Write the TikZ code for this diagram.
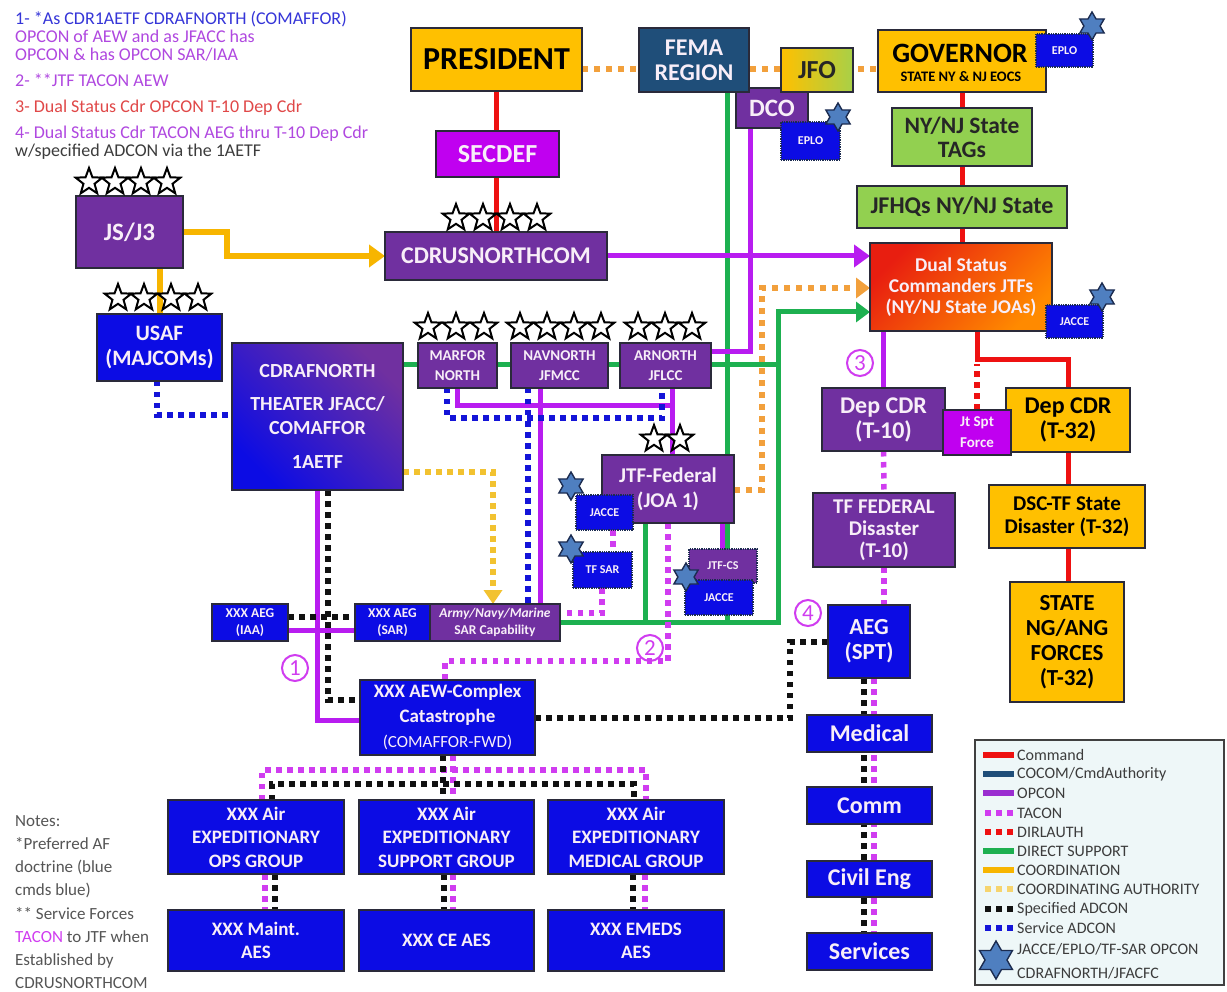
\documentclass[tikz,border=0pt]{standalone}
\usepackage{fontspec}
\setmainfont{Carlito}
\usetikzlibrary{shapes.geometric,arrows.meta}
\pgfdeclarelayer{bottomfill}
\pgfdeclarelayer{background}
\pgfdeclarelayer{foreground}
\pgfsetlayers{bottomfill,background,main,foreground}
\newcommand\fsz[2]{\fontsize{#1}{#2}\selectfont}
\newcommand\bx[7]{\node[#6, minimum width={(#4-#2)*1pt}, minimum height={(#5-#3)*1pt}] (#1) at ({(#2+#4)/2},{(#3+#5)/2}) {#7};}
\definecolor{cPurple}{HTML}{7030A0}
\definecolor{cBlue}{HTML}{0C0CE4}
\definecolor{cYellow}{HTML}{FFC000}
\definecolor{cGreen}{HTML}{92D050}
\definecolor{cFema}{HTML}{1F4E79}
\definecolor{cMag}{HTML}{C000F0}
\definecolor{cJfoG}{HTML}{A8D048}
\definecolor{cDualR}{HTML}{E81E10}
\definecolor{cDualO}{HTML}{FF8A00}
\definecolor{lRed}{HTML}{EE1111}
\definecolor{lGreen}{HTML}{1DB050}
\definecolor{lGold}{HTML}{F7B500}
\definecolor{lOrange}{HTML}{F2A03C}
\definecolor{lYelDot}{HTML}{F2C230}
\definecolor{lMag}{HTML}{B81CF0}
\definecolor{lTac}{HTML}{D03CF0}
\definecolor{lBlack}{HTML}{111111}
\definecolor{lBlue}{HTML}{1414D8}
\definecolor{lOpcLeg}{HTML}{9A2ED0}
\definecolor{cBorder}{HTML}{2A2A3A}
\definecolor{cWhiteT}{HTML}{F8EEF8}
\definecolor{cHex}{HTML}{4F7FC0}
\definecolor{cHexB}{HTML}{1C2C50}
\definecolor{tBlue}{HTML}{3535D8}
\definecolor{tPurp}{HTML}{B048E0}
\definecolor{tRed}{HTML}{E04848}
\definecolor{tGray}{HTML}{3C3C3C}
\definecolor{nGray}{HTML}{555555}
\definecolor{cLegF}{HTML}{EEF7F8}
\definecolor{cLegB}{HTML}{404040}
\begin{document}
\begin{tikzpicture}[x=1pt,y=-1pt,
  box/.style={draw=cBorder, line width=1.3pt, inner sep=0pt, outer sep=0pt, align=center, font=\bfseries},
  pbox/.style={box, fill=cPurple, text=cWhiteT},
  bbox/.style={box, fill=cBlue, text=cWhiteT},
  ybox/.style={box, fill=cYellow, text=black},
  gbox/.style={box, fill=cGreen, text=black!85},
  sbox/.style={box, fill=cBlue, text=cWhiteT, draw=cHexB, densely dotted, line width=1.2pt, font=\fsz{12}{14}\bfseries},
  ostar/.style={star, star points=5, star point ratio=2.4, minimum size=28pt, inner sep=0pt, draw=black, fill=white, line width=2pt},
  hstar/.style={star, star points=6, star point ratio=1.73, minimum size=28pt, inner sep=0pt, draw=cHexB, fill=cHex, line width=1.4pt},
  circnum/.style={circle, draw=lTac, line width=2pt, minimum size=26pt, inner sep=0pt, text=lTac, font=\fsz{23}{23}},
  lnCmd/.style={lRed, line width=5pt},
  lnOpc/.style={lMag, line width=5pt},
  lnDsup/.style={lGreen, line width=5pt},
  lnCoord/.style={lGold, line width=6pt},
  lnDot/.style={line width=5.5pt, dash pattern=on 5.5pt off 5.5pt},
  lnTac/.style={lnDot, lTac},
  lnDirl/.style={lnDot, lRed},
  lnSpec/.style={lnDot, lBlack},
  lnServ/.style={lnDot, lBlue},
  lnCaut/.style={lOrange, line width=6pt, dash pattern=on 6pt off 6pt},
  lnYaut/.style={lnDot, lYelDot},
  tip/.style={-{Triangle[length=16pt,width=22pt]}},
  lgt/.style={anchor=west, inner sep=0pt, font=\fsz{16}{16}, text=tGray},
  toptxt/.style={anchor=base west, inner sep=0pt, font=\fsz{18}{18}},
  notetxt/.style={anchor=base west, inner sep=0pt, font=\fsz{17}{18}, text=nGray}
]
\begin{pgfonlayer}{bottomfill}
\fill[white] (0,0) rectangle (1227,992);
\end{pgfonlayer}
\useasboundingbox (0,0) rectangle (1227,992);

% ---------- top-left text ----------
\node[toptxt, text=tBlue] (t1) at (15,25) {1- *As CDR1AETF CDRAFNORTH (COMAFFOR)};
\node[toptxt, text=tPurp] (t2) at (15,43) {OPCON of AEW and as JFACC has};
\node[toptxt, text=tPurp] (t3) at (15,61) {OPCON \& has OPCON SAR/IAA};
\node[toptxt, text=tPurp] (t4) at (15,87) {2- **JTF TACON AEW};
\node[toptxt, text=tRed] (t5) at (15,113) {3- Dual Status Cdr OPCON T-10 Dep Cdr};
\node[toptxt, text=tPurp] (t6) at (15,139) {4- Dual Status Cdr TACON AEG thru T-10 Dep Cdr};
\node[toptxt, text=tGray] (t7) at (15,157) {w/specified ADCON via the 1AETF};

% ---------- notes ----------
\node[notetxt] (n1) at (15,826) {Notes:};
\node[notetxt] (n2) at (15,849) {*Preferred AF};
\node[notetxt] (n3) at (15,872) {doctrine (blue};
\node[notetxt] (n4) at (15,895) {cmds blue)};
\node[notetxt] (n5) at (15,919) {** Service Forces};
\node[notetxt] (n6) at (15,942) {\textcolor{lTac}{TACON} to JTF when};
\node[notetxt] (n7) at (15,965) {Established by};
\node[notetxt] (n8) at (15,988) {CDRUSNORTHCOM};

% ---------- boxes ----------
\bx{dco}{736}{88}{808}{128}{pbox,font=\fsz{25}{26}\bfseries}{DCO}
\bx{pres}{411}{28}{582}{91}{ybox,font=\fsz{32}{34}\bfseries}{PRESIDENT}
\bx{fema}{639}{28}{749}{92}{box,fill=cFema,text=cWhiteT,font=\fsz{24}{25}\bfseries}{FEMA\\REGION}
\bx{jfo}{781}{48}{853}{92}{box,left color=cYellow,right color=cJfoG,text=black!85,font=\fsz{26}{26}\bfseries}{JFO}
\bx{eplob}{781}{122}{840}{160}{sbox}{EPLO}
\bx{secdef}{436}{131}{559}{177}{box,fill=cMag,text=cWhiteT,font=\fsz{26}{26}\bfseries}{SECDEF}
\bx{cdrus}{385}{232}{607}{280}{pbox,font=\fsz{24}{24}\bfseries}{CDRUSNORTHCOM}
\bx{gov}{878}{30}{1046}{92}{ybox}{}
\node[inner sep=0pt, font=\fsz{28}{28}\bfseries] (govt) at (960,53) {GOVERNOR};
\node[inner sep=0pt, font=\fsz{14.5}{15}\bfseries] (govs) at (961,77) {STATE NY \& NJ EOCS};
\bx{eploa}{1036}{34}{1093}{67}{sbox}{EPLO}
\bx{tags}{892}{108}{1032}{166}{gbox,font=\fsz{23.5}{24}\bfseries}{NY/NJ State\\TAGs}
\bx{jfhq}{857}{186}{1067}{228}{gbox,font=\fsz{24}{24}\bfseries}{JFHQs NY/NJ State}
\bx{dual}{870}{243}{1052}{331}{box,top color=cDualR,bottom color=cDualO,shading angle=45,text=cWhiteT,font=\fsz{19.5}{21}\bfseries}{Dual Status\\Commanders JTFs\\(NY/NJ State JOAs)}
\bx{jaccea}{1046}{305}{1103}{338}{sbox}{JACCE}
\bx{js}{76}{196}{183}{268}{pbox,font=\fsz{25}{25}\bfseries}{JS/J3}
\bx{usaf}{97}{314}{222}{381}{bbox,font=\fsz{22}{25}\bfseries}{USAF\\(MAJCOMs)}
\bx{cdraf}{232}{343}{403}{490}{box,top color=cPurple,bottom color=cBlue,shading angle=-45,text=cWhiteT,font=\fsz{20}{24}\bfseries}{CDRAFNORTH\\[9pt]THEATER JFACC/\\COMAFFOR\\[10pt]1AETF}
\bx{mar}{418}{343}{497}{388}{pbox,font=\fsz{15}{20}\bfseries}{MARFOR\\NORTH}
\bx{nav}{511}{343}{608}{388}{pbox,font=\fsz{15}{20}\bfseries}{NAVNORTH\\JFMCC}
\bx{arn}{620}{343}{711}{388}{pbox,font=\fsz{15}{20}\bfseries}{ARNORTH\\JFLCC}
\bx{jtf}{602}{455}{734}{523}{pbox,font=\fsz{21}{25}\bfseries}{JTF-Federal\\(JOA 1)}
\bx{jacceb}{576}{495}{633}{530}{sbox}{JACCE}
\bx{tfsar}{573}{552}{632}{588}{sbox}{TF SAR}
\bx{jtfcs}{689}{549}{757}{583}{sbox,fill=cPurple}{JTF-CS}
\bx{jaccec}{685}{580}{753}{615}{sbox}{JACCE}
\bx{iaa}{212}{604}{288}{641}{bbox,font=\fsz{13.5}{17}\bfseries}{XXX AEG\\(IAA)}
\bx{sar}{355}{604}{430}{641}{bbox,font=\fsz{13.5}{17}\bfseries}{XXX AEG\\(SAR)}
\bx{army}{430}{604}{560}{641}{pbox,font=\fsz{13.5}{17}\bfseries}{\textit{Army/Navy/Marine}\\SAR Capability}
\bx{aew}{360}{680}{535}{755}{bbox,font=\fsz{19}{25}\bfseries}{XXX AEW-Complex\\Catastrophe\\{\mdseries\fsz{17}{25}(COMAFFOR-FWD)}}
\bx{ops}{168}{800}{344}{874}{bbox,font=\fsz{19}{23.5}\bfseries}{XXX Air\\EXPEDITIONARY\\OPS GROUP}
\bx{sup}{359}{800}{534}{874}{bbox,font=\fsz{19}{23.5}\bfseries}{XXX Air\\EXPEDITIONARY\\SUPPORT GROUP}
\bx{medg}{548}{800}{724}{874}{bbox,font=\fsz{19}{23.5}\bfseries}{XXX Air\\EXPEDITIONARY\\MEDICAL GROUP}
\bx{maint}{168}{910}{344}{971}{bbox,font=\fsz{19}{23}\bfseries}{XXX Maint.\\AES}
\bx{ce}{359}{910}{534}{971}{bbox,font=\fsz{19}{23}\bfseries}{XXX CE AES}
\bx{emeds}{548}{910}{724}{971}{bbox,font=\fsz{19}{23}\bfseries}{XXX EMEDS\\AES}
\bx{dep10}{822}{388}{945}{451}{pbox,font=\fsz{24}{25}\bfseries}{Dep CDR\\(T-10)}
\bx{dep32}{1006}{388}{1130}{452}{ybox,font=\fsz{24}{25}\bfseries}{Dep CDR\\(T-32)}
\bx{jsf}{943}{410}{1011}{455}{box,fill=cMag,text=cWhiteT,font=\fsz{15}{21}\bfseries}{Jt Spt\\Force}
\bx{dsc}{989}{485}{1145}{548}{ybox,font=\fsz{21}{23}\bfseries}{DSC-TF State\\Disaster (T-32)}
\bx{ng}{1010}{582}{1124}{702}{ybox,font=\fsz{23}{25}\bfseries}{STATE\\NG/ANG\\FORCES\\(T-32)}
\bx{tffed}{813}{493}{955}{567}{pbox,font=\fsz{21}{22}\bfseries}{TF FEDERAL\\Disaster\\(T-10)}
\bx{aeg}{828}{605}{910}{678}{bbox,font=\fsz{23}{25}\bfseries}{AEG\\(SPT)}
\bx{medical}{807}{715}{932}{752}{bbox,font=\fsz{24}{24}\bfseries}{Medical}
\bx{comm}{807}{787}{932}{824}{bbox,font=\fsz{24}{24}\bfseries}{Comm}
\bx{civil}{807}{861}{932}{897}{bbox,font=\fsz{24}{24}\bfseries}{Civil Eng}
\bx{services}{807}{933}{932}{970}{bbox,font=\fsz{24}{24}\bfseries}{Services}

% circled numbers
\node[circnum] (c1) at (295,668) {1};
\node[circnum] (c2) at (650,648) {2};
\node[circnum] (c3) at (860,363) {3};
\node[circnum] (c4) at (808,613) {4};

% ---------- legend ----------
\bx{legend}{975}{740}{1224}{985}{draw=cLegB, line width=1.2pt, fill=cLegF, inner sep=0pt, outer sep=0pt}{}
\draw[lRed, line width=6pt] (983,755) -- (1014,755);
\draw[cFema, line width=6pt] (983,774) -- (1014,774);
\draw[lOpcLeg, line width=6pt] (983,793) -- (1014,793);
\draw[lTac, line width=6pt, dash pattern=on 6pt off 5pt] (985,813) -- (1013,813);
\draw[lRed, line width=6pt, dash pattern=on 6pt off 5pt] (985,832) -- (1013,832);
\draw[lGreen, line width=6pt] (983,851) -- (1014,851);
\draw[lGold, line width=6pt] (983,870) -- (1014,870);
\draw[lYelDot!70, line width=6pt, dash pattern=on 6pt off 5pt] (985,889) -- (1013,889);
\draw[lBlack, line width=6pt, dash pattern=on 6pt off 5pt] (985,909) -- (1013,909);
\draw[lBlue, line width=6pt, dash pattern=on 6pt off 5pt] (985,928) -- (1013,928);
\node[lgt] (lg1) at (1017,755) {Command};
\node[lgt] (lg2) at (1017,774) {COCOM/CmdAuthority};
\node[lgt] (lg3) at (1017,793) {OPCON};
\node[lgt] (lg4) at (1017,813) {TACON};
\node[lgt] (lg5) at (1017,832) {DIRLAUTH};
\node[lgt] (lg6) at (1017,851) {DIRECT SUPPORT};
\node[lgt] (lg7) at (1017,870) {COORDINATION};
\node[lgt] (lg8) at (1017,889) {COORDINATING AUTHORITY};
\node[lgt] (lg9) at (1017,909) {Specified ADCON};
\node[lgt] (lg10) at (1017,928) {Service ADCON};
\node[lgt] (lg11) at (1017,949) {JACCE/EPLO/TF-SAR OPCON};
\node[lgt] (lg12) at (1017,973) {CDRAFNORTH/JFACFC};

% ---------- stars ----------
\begin{pgfonlayer}{foreground}
\foreach \x [count=\i] in {89,115,141,167} \node[ostar] (sjs\i) at (\x,182) {};
\foreach \x [count=\i] in {118,144,171,198} \node[ostar] (susaf\i) at (\x,298) {};
\foreach \x [count=\i] in {456,483,510,537} \node[ostar] (scdr\i) at (\x,218) {};
\foreach \x [count=\i] in {428,456,484} \node[ostar] (smar\i) at (\x,327) {};
\foreach \x [count=\i] in {520,547,574,601} \node[ostar] (snav\i) at (\x,327) {};
\foreach \x [count=\i] in {638,665,692} \node[ostar] (sarn\i) at (\x,327) {};
\foreach \x [count=\i] in {654,680} \node[ostar] (sjtf\i) at (\x,439) {};
\node[hstar] (h1) at (1092,26) {};
\node[hstar] (h2) at (838,117) {};
\node[hstar] (h3) at (1102,297) {};
\node[hstar] (h4) at (571,486) {};
\node[hstar] (h5) at (571,549) {};
\node[hstar] (h6) at (686,577) {};
\node[hstar, minimum size=38pt] (h7) at (996,960) {};
\end{pgfonlayer}

% ---------- connectors ----------
\begin{pgfonlayer}{background}
% command
\draw[lnCmd] (pres.south) -- (pres.south |- cdrus.north);
\draw[lnCmd] (gov.south) -- (gov.south |- dual.north);
\draw[lnCmd] (dual.south -| 977,0) -- (977,360) -| (dep32.north);
\draw[lnCmd] (dep32.south) -- (dep32.south |- ng.north);
\draw[lnDirl] (jsf.north) -- (jsf.north |- 0,364);
% coordination
\draw[lnCoord, tip] (js.east) -- (227,232) |- (cdrus.west);
\draw[lnCoord] (js.south -| usaf.north) -- (usaf.north);
% coordinating authority
\draw[lnCaut] (pres.east |- 0,69) -- (gov.west |- 0,69);
\draw[lnCaut, -{Triangle[length=14pt,width=20pt]}] (jtf.east |- 0,490) -- (762,490) |- (dual.west |- 0,288);
\draw[lnYaut, -{Triangle[length=14pt,width=18pt]}] (cdraf.east |- 0,472) -| (army.north -| 493,0);
% direct support
\draw[lnDsup] (cdraf.east |- 0,365) -- (778,365);
\draw[lnDsup] (fema.south -| 727,0) -- (727,622);
\draw[lnDsup, -{Triangle[length=14pt,width=20pt]}] (army.east |- 0,622) -- (778,622) |- (dual.west |- 0,312);
\draw[lnDsup] (jtf.south -| 645,0) -- (645,622);
% OPCON
\draw[lnOpc, tip] (cdrus.east) -- (dual.west |- cdrus.east);
\draw[lnOpc] (dco.south -| 750,0) |- (arn.east |- 0,352);
\draw[lnOpc] (mar.south -| 457,0) |- (672,406);
\draw[lnOpc] (arn.south -| 672,0) -- (jtf.north -| 672,0);
\draw[lnOpc] (nav.south -| 540,0) -- (army.north -| 540,0);
\draw[lnOpc] (jtf.south -| 722,0) -- (jtfcs.north -| 722,0);
\draw[lnOpc] (cdraf.south -| 317,0) |- (aew.west |- 0,720);
\draw[lnOpc] (iaa.east |- 0,630) -- (sar.west |- 0,630);
\draw[lnOpc] (dep10.north |- dual.south) -- (dep10.north);
% TACON
\draw[lnTac] (jtf.south -| 668,0) -- (668,661) -| (aew.north -| 445,0);
\draw[lnTac] (jacceb.south -| 613,0) -- (tfsar.north -| 613,0);
\draw[lnTac] (tfsar.south -| 602,0) |- (army.east |- 0,613);
\draw[lnTac] (dep10.south) -- (tffed.north);
\draw[lnTac] (tffed.south) -- (tffed.south |- aeg.north);
\draw[lnTac] (aeg.south -| 874,0) -- (services.north -| 874,0);
\draw[lnTac] (aew.south -| 453,0) -- (sup.north -| 453,0);
\draw[lnTac] (ops.north -| 262,0) |- (646,770) -- (medg.north -| 646,0);
\draw[lnTac] (ops.south -| 265,0) -- (maint.north -| 265,0);
\draw[lnTac] (sup.south -| 453,0) -- (ce.north -| 453,0);
\draw[lnTac] (medg.south -| 645,0) -- (emeds.north -| 645,0);
% specified ADCON
\draw[lnSpec] (cdraf.south -| 328,0) |- (aew.west |- 0,700);
\draw[lnSpec] (iaa.east |- 0,617) -- (sar.west |- 0,617);
\draw[lnSpec] (aew.east |- 0,718) -| (790,642) -- (aeg.west |- 0,642);
\draw[lnSpec] (aeg.south -| 864,0) -- (services.north -| 864,0);
\draw[lnSpec] (aew.south -| 443,0) -- (sup.north -| 443,0);
\draw[lnSpec] (ops.north -| 272,0) |- (634,784) -- (medg.north -| 634,0);
\draw[lnSpec] (ops.south -| 275,0) -- (maint.north -| 275,0);
\draw[lnSpec] (sup.south -| 444,0) -- (ce.north -| 444,0);
\draw[lnSpec] (medg.south -| 633,0) -- (emeds.north -| 633,0);
% service ADCON
\draw[lnServ] (usaf.south -| 157,0) |- (cdraf.west |- 0,415);
\draw[lnServ] (mar.south -| 447,0) |- (662,418) -- (arn.south -| 662,0);
\draw[lnServ] (nav.south -| 528,0) -- (army.north -| 528,0);
\end{pgfonlayer}
\end{tikzpicture}
\end{document}
